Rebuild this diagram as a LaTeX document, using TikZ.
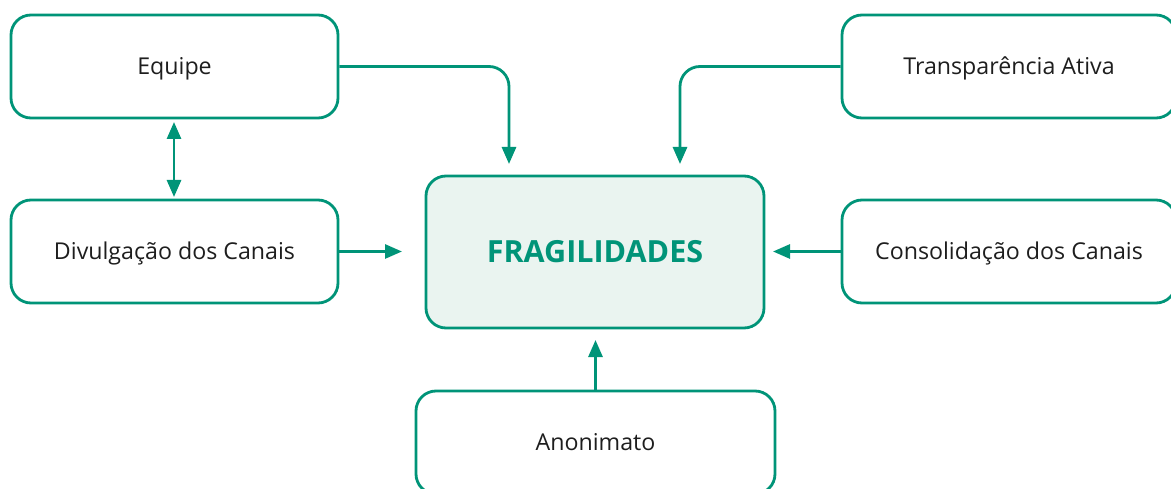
\documentclass[tikz,border=0pt]{standalone}
\usepackage{fontspec}
\setmainfont{Open Sans}
\usetikzlibrary{arrows.meta}
\definecolor{grn}{RGB}{0,148,120}
\definecolor{lgrn}{RGB}{234,244,240}
\definecolor{txt}{RGB}{30,30,30}
\tikzset{
  box/.style={draw=grn, line width=2.8pt, rounded corners=20pt, fill=white,
    minimum width=327pt, minimum height=103pt, inner sep=0pt,
    text height=16pt, text depth=0pt,
    font=\fontsize{23.2}{27}\selectfont, text=txt},
  mainbox/.style={draw=grn, line width=2.8pt, rounded corners=20pt, fill=lgrn,
    minimum width=338pt, minimum height=152pt, inner sep=0pt,
    text height=22pt, text depth=0pt,
    font=\fontsize{30.5}{34}\selectfont\bfseries, text=grn},
  conn/.style={draw=grn, line width=2.8pt, -{Triangle[length=17pt,width=14pt]}},
  conn2/.style={draw=grn, line width=2.8pt, {Triangle[length=17pt,width=14pt]}-{Triangle[length=17pt,width=14pt]}}
}
\begin{document}
\begin{tikzpicture}[x=1pt,y=-1pt]
\clip (0,0) rectangle (1171,489);
\fill[white] (0,0) rectangle (1171,489);
\node[box] (eq) at (174.5,66.5) {Equipe};
\node[box] (div) at (174.5,251.5) {Divulgação dos Canais};
\node[mainbox] (c) at (595,252) {FRAGILIDADES};
\node[box, minimum width=334pt] (tr) at (1009,66.5) {Transparência Ativa};
\node[box, minimum width=334pt] (con) at (1009,251.5) {Consolidação dos Canais};
\node[box, minimum width=359pt] (an) at (595.5,442.5) {Anonimato};
\coordinate (t1) at (509,164);
\coordinate (t2) at (680,164);
\coordinate (t3) at (402,251.5);
\coordinate (t4) at (773,251.5);
\coordinate (t5) at (595.5,340);
\coordinate (u1) at (174,122);
\coordinate (u2) at (174,197);
\draw[conn, rounded corners=20pt] (eq.east) -| (t1);
\draw[conn, rounded corners=20pt] (tr.west) -| (t2);
\draw[conn] (div.east) -- (t3);
\draw[conn] (con.west) -- (t4);
\draw[conn] (an.north) -- (t5);
\draw[conn2] (u1) -- (u2);
\end{tikzpicture}
\end{document}
